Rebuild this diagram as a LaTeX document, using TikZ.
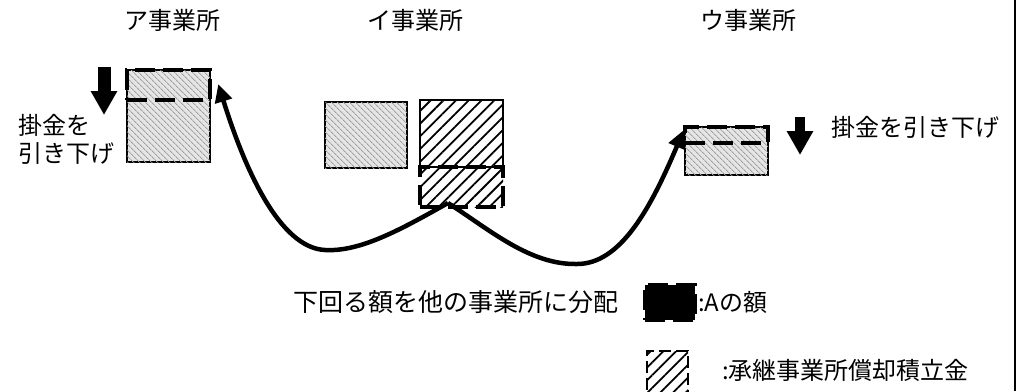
\documentclass[tikz,border=0pt]{standalone}
\usepackage{fontspec}
\setmainfont{Noto Sans CJK JP}
\usetikzlibrary{calc,arrows.meta,patterns.meta,positioning}

\tikzset{
  jp/.style={font=\fontsize{24}{28}\selectfont, inner sep=0pt},
  stipple/.style={draw, line width=2.5pt, fill=gray!20, inner sep=0pt,
    postaction={pattern={Lines[angle=-45,distance=4pt,line width=0.9pt]}, pattern color=gray!75}},
  hatch/.style={draw, line width=2pt, inner sep=0pt,
    pattern={Lines[angle=45,distance=9pt,line width=1.8pt]}},
  aamount/.style={draw, line width=4pt, dash pattern=on 20pt off 8pt, inner sep=0pt},
  flow/.style={line width=4.5pt, -{Triangle[length=18pt,width=17pt]}},
  lowerarrow/.style={-{Triangle[length=24pt,width=25pt]}},
}

\begin{document}
\begin{tikzpicture}[x=1pt, y=-1pt]
\useasboundingbox (0,0) rectangle (1033,391);

% Titles
\node[jp] (atitle) at (172, 20) {ア事業所};
\node[jp] (ititle) at (415, 20) {イ事業所};
\node[jp] (utitle) at (748, 20) {ウ事業所};

% ア office
\node[stipple, minimum width=83pt, minimum height=92pt] (ajbox) at (168.5, 116) {};
\node[aamount, minimum width=83pt, minimum height=30pt] (ajA) at (168.5, 85) {};
\draw[lowerarrow, line width=13pt] (104, 67) -- (104, 115);
\node[jp, anchor=west] (acut1) at (18, 125) {掛金を};
\node[jp, anchor=west] (acut2) at (18, 153) {引き下げ};

% イ office
\node[stipple, minimum width=82pt, minimum height=66pt] (ijleft) at (366, 135) {};
\node[hatch, minimum width=83pt, minimum height=67pt] (ijhatch) at (461.5, 133.5) {};
\node[hatch, draw=none, minimum width=83pt, minimum height=40pt] (ijA) at (461.5, 187) {};
\node[aamount, minimum width=83pt, minimum height=40pt] at (ijA) {};

% ウ office
\node[stipple, minimum width=83pt, minimum height=48pt] (ujbox) at (726.5, 151) {};
\node[aamount, minimum width=83pt, minimum height=16pt] (ujA) at (726.5, 135) {};
\draw[lowerarrow, line width=10pt] (800, 117) -- (800, 155);
\node[jp, anchor=west] (ucut) at (831, 127) {掛金を引き下げ};

% Distribution curves
\coordinate (split) at (448, 203);
\coordinate (atip) at ($(ajbox.east)+(7,-32)$);
\coordinate (utip) at ($(ujbox.west)+(0,-21)$);
\draw[flow] (split) .. controls (400,230) and (360,252) .. (325,250)
  .. controls (280,248) and (245,170) .. (atip);
\draw[flow] (split) .. controls (490,230) and (530,265) .. (577,264)
  .. controls (620,264) and (650,210) .. (utip);

\node[jp, font=\fontsize{25}{29}\selectfont] (distrib) at (456, 302) {下回る額を他の事業所に分配};

% Legend
\node[aamount, fill=black, minimum width=50pt, minimum height=35pt] (keyA) at (670, 302.5) {};
\node[jp, anchor=west] (keyAtext) at (698, 302) {:Aの額};
\node[hatch, dash pattern=on 12pt off 5pt, minimum width=41pt, minimum height=44pt] (keyH) at (667.5, 373) {};
\node[jp, anchor=west] (keyHtext) at (722, 370) {:承継事業所償却積立金};

% Right border
\draw[line width=2pt] (1015, 0) -- (1015, 391);

\end{tikzpicture}
\end{document}
